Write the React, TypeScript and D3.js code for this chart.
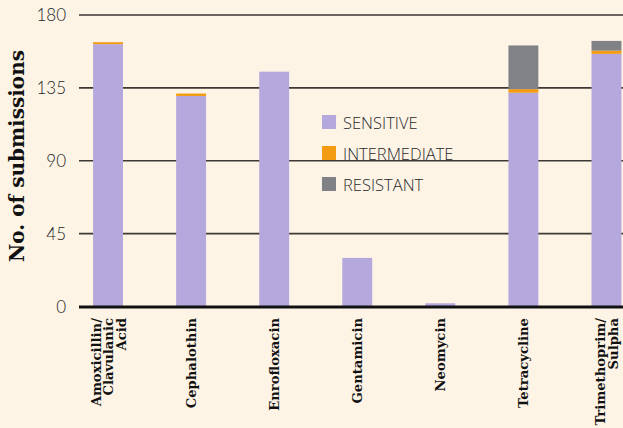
import React from "react";
import * as d3 from "d3";

const categories: string[][] = [
  ["Amoxicillin/", "Clavulanic", "Acid"],
  ["Cephalothin"],
  ["Enrofloxacin"],
  ["Gentamicin"],
  ["Neomycin"],
  ["Tetracycline"],
  ["Trimethoprim/", "Sulpha"],
];
const sensitive = [162, 130, 145, 30, 2, 132, 156];
const intermediate = [1.2, 1.5, 0, 0, 0, 2.2, 2];
const resistant = [0, 0, 0, 0, 0, 27, 6];
const seriesNames = ["SENSITIVE", "INTERMEDIATE", "RESISTANT"];
const seriesColors = ["#b5a8dc", "#f39c12", "#808285"];
const yTicks = [0, 45, 90, 135, 180];

const W = 623;
const H = 428;

export default function App() {
  const keys = categories.map((c) => c.join(" "));
  const x = d3.scaleBand<string>().domain(keys).range([66.5, 648]).paddingInner(0.64).paddingOuter(0.32);
  const y = d3.scaleLinear().domain([0, 180]).range([306.5, 15]);
  const rows = keys.map((k, i) => ({ key: k, s0: sensitive[i], s1: intermediate[i], s2: resistant[i] }));
  const stack = d3.stack<any>().keys(["s0", "s1", "s2"])(rows);
  const bw = x.bandwidth();
  const lineGap = 12.5;

  return (
    <svg width={W} height={H} style={{ position: "fixed", left: 0, top: 0, display: "block" }}>
      <rect x={0} y={0} width={W} height={H} fill="#fdf4e6" />
      {yTicks.filter((t) => t > 0).map((t) => (
        <line key={t} x1={79} x2={W} y1={y(t)} y2={y(t)} stroke="#3d3833" strokeWidth={1.6} />
      ))}
      {yTicks.map((t) => (
        <text key={"l" + t} x={66} y={y(t)} dy="0.36em" textAnchor="end" fontFamily="Lato" fontWeight={300} fontSize={17} fill="#222">
          {t}
        </text>
      ))}
      {stack.map((layer, li) => (
        <g key={li} fill={seriesColors[li]}>
          {layer.map((d, i) => {
            const h = y(d[0]) - y(d[1]);
            if (h <= 0) return null;
            return <rect key={i} x={x(keys[i])!} y={y(d[1])} width={bw} height={h} />;
          })}
        </g>
      ))}
      <line x1={79} x2={W} y1={307} y2={307} stroke="#111" strokeWidth={3} />
      {categories.map((lines, i) => {
        const cx = x(keys[i])! + bw / 2;
        const n = lines.length;
        return (
          <g key={"c" + i}>
            {lines.map((ln, j) => {
              const bx = cx + 5 - ((n - 1) * lineGap) / 2 + j * lineGap;
              return (
                <text key={j} transform={`translate(${bx},318) rotate(-90)`} textAnchor="end" fontFamily="DejaVu Serif" fontWeight="bold" fontSize={13.2} fill="#111">
                  {ln}
                </text>
              );
            })}
          </g>
        );
      })}
      <text transform="translate(24,156) rotate(-90)" textAnchor="middle" fontFamily="DejaVu Serif" fontWeight="bold" fontSize={20} fill="#111">
        No. of submissions
      </text>
      {seriesNames.map((s, i) => (
        <g key={s} transform={`translate(322,${115 + i * 31})`}>
          <rect x={0} y={0} width={14} height={14} fill={seriesColors[i]} />
          <text x={21} y={14} fontFamily="Open Sans" fontWeight={300} fontSize={16.5} fill="#2a2a2a">
            {s}
          </text>
        </g>
      ))}
    </svg>
  );
}
